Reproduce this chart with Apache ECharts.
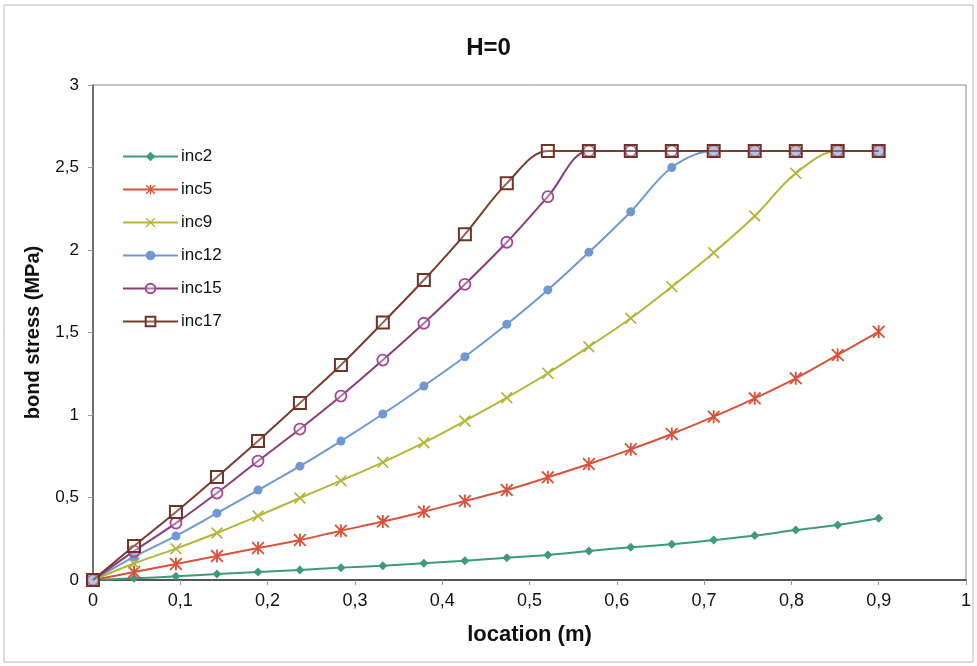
<!DOCTYPE html>
<html>
<head>
<meta charset="utf-8">
<script src="https://cdn.jsdelivr.net/npm/echarts@6/dist/echarts.min.js"></script>
<style>
html,body{margin:0;padding:0;background:#fff;}
#c{width:977px;height:666px;}
</style>
</head>
<body>
<div id="c"></div>
<script>
// ---- data ----
const titleText = "H=0";
const xAxisName = "location (m)";
const yAxisName = "bond stress (MPa)";
const seriesNames = ["inc2", "inc5", "inc9", "inc12", "inc15", "inc17"];
const locations = [0, 0.047, 0.095, 0.142, 0.189, 0.237, 0.284, 0.332, 0.379, 0.426,
                   0.474, 0.521, 0.568, 0.616, 0.663, 0.711, 0.758, 0.805, 0.853, 0.9];
const inc2  = [0, 0.010, 0.022, 0.036, 0.049, 0.061, 0.075, 0.087, 0.101, 0.117,
               0.135, 0.152, 0.176, 0.198, 0.216, 0.242, 0.269, 0.303, 0.333, 0.374];
const inc5  = [0, 0.048, 0.097, 0.145, 0.194, 0.242, 0.299, 0.354, 0.414, 0.479,
               0.545, 0.622, 0.703, 0.792, 0.885, 0.990, 1.101, 1.222, 1.364, 1.505];
const inc9  = [0, 0.100, 0.190, 0.285, 0.388, 0.497, 0.602, 0.713, 0.832, 0.964,
               1.105, 1.253, 1.414, 1.586, 1.778, 1.984, 2.206, 2.465, 2.600, 2.600];
const inc12 = [0, 0.140, 0.267, 0.405, 0.545, 0.690, 0.842, 1.006, 1.176, 1.353,
               1.550, 1.758, 1.986, 2.232, 2.500, 2.600, 2.600, 2.600, 2.600, 2.600];
const inc15 = [0, 0.175, 0.345, 0.527, 0.721, 0.915, 1.115, 1.333, 1.556, 1.792,
               2.047, 2.323, 2.600, 2.600, 2.600, 2.600, 2.600, 2.600, 2.600, 2.600];
const inc17 = [0, 0.206, 0.412, 0.624, 0.842, 1.073, 1.303, 1.560, 1.818, 2.095,
               2.404, 2.600, 2.600, 2.600, 2.600, 2.600, 2.600, 2.600, 2.600, 2.600];
const xTickLabels = ["0", "0,1", "0,2", "0,3", "0,4", "0,5", "0,6", "0,7", "0,8", "0,9", "1"];
const yTickLabels = ["0", "0,5", "1", "1,5", "2", "2,5", "3"];

// ---- styles ----
const colors = ["#3d9b7c", "#d9523a", "#b5b53a", "#6f99d0", "#8b3d7a", "#7b3b2e"];
const starPath = "path://M4.3 0L5.7 0L5.7 10L4.3 10Z M0 1L1 0L10 9L9 10Z M9 0L10 1L1 10L0 9Z";
const crossPath = "path://M0 1L1 0L10 9L9 10Z M9 0L10 1L1 10L0 9Z";
const styles = [
  {symbol: "diamond", symbolSize: 9, item: {color: colors[0]}},
  {symbol: starPath, symbolSize: 13, item: {color: colors[1]}},
  {symbol: crossPath, symbolSize: 12, item: {color: colors[2]}},
  {symbol: "circle", symbolSize: 9, item: {color: colors[3]}},
  {symbol: "circle", symbolSize: 11, item: {color: "rgba(255,255,255,0.3)", borderColor: "#a2479a", borderWidth: 1.8}},
  {symbol: "rect", symbolSize: 12, item: {color: "rgba(255,255,255,0.2)", borderColor: "#6e3526", borderWidth: 2}}
];
const values = [inc2, inc5, inc9, inc12, inc15, inc17];

const series = seriesNames.map((name, k) => ({
  name: name,
  type: "line",
  smooth: 0.35,
  symbol: styles[k].symbol,
  symbolSize: styles[k].symbolSize,
  showAllSymbol: true,
  lineStyle: {color: colors[k], width: 2},
  itemStyle: Object.assign({opacity: 1}, styles[k].item),
  emphasis: {disabled: true},
  data: locations.map((x, i) => [x, values[k][i]]),
  z: 2 + k
}));

const chart = echarts.init(document.getElementById("c"), null, {renderer: "canvas"});
chart.setOption({
  animation: false,
  backgroundColor: "#ffffff",
  title: {
    text: titleText,
    left: "center",
    top: 31,
    textStyle: {fontFamily: "Liberation Sans, Arial", fontWeight: "bold", fontSize: 24, color: "#111"}
  },
  graphic: [{
    type: "rect",
    shape: {x: 4, y: 5, width: 969, height: 657},
    style: {fill: "none", stroke: "#b8b8b8", lineWidth: 1},
    silent: true, z: -10
  }],
  legend: {
    orient: "vertical",
    left: 117,
    top: 143,
    itemWidth: 55,
    itemHeight: 12,
    itemGap: 16,
    data: seriesNames,
    textStyle: {fontFamily: "Liberation Sans, Arial", fontSize: 17, color: "#111", padding: [0, 0, 0, -2]}
  },
  grid: {
    left: 93, right: 11, top: 85, bottom: 86,
    show: true, borderColor: "#8a8a8a", borderWidth: 1, backgroundColor: "transparent"
  },
  xAxis: {
    type: "value",
    min: 0, max: 1, interval: 0.1,
    name: xAxisName,
    nameLocation: "middle",
    nameGap: 44,
    nameTextStyle: {fontFamily: "Liberation Sans, Arial", fontWeight: "bold", fontSize: 22, color: "#111"},
    axisLine: {show: true, lineStyle: {color: "#555", width: 2}},
    axisTick: {show: true, inside: false, length: 5, lineStyle: {color: "#999"}},
    splitLine: {show: false},
    axisLabel: {
      margin: 12,
      fontFamily: "Liberation Sans, Arial",
      fontSize: 18, color: "#111",
      formatter: (v) => xTickLabels[Math.round(v * 10)]
    }
  },
  yAxis: {
    type: "value",
    min: 0, max: 3, interval: 0.5,
    name: yAxisName,
    nameLocation: "middle",
    nameRotate: 90,
    nameGap: 50,
    nameTextStyle: {fontFamily: "Liberation Sans, Arial", fontWeight: "bold", fontSize: 20, color: "#111"},
    axisLine: {show: true, lineStyle: {color: "#555", width: 1.5}},
    axisTick: {show: true, inside: false, length: 5, lineStyle: {color: "#999"}},
    splitLine: {show: false},
    axisLabel: {
      margin: 14,
      fontFamily: "Liberation Sans, Arial",
      fontSize: 17, color: "#111",
      formatter: (v) => yTickLabels[Math.round(v * 2)]
    }
  },
  series: series
});
</script>
</body>
</html>
